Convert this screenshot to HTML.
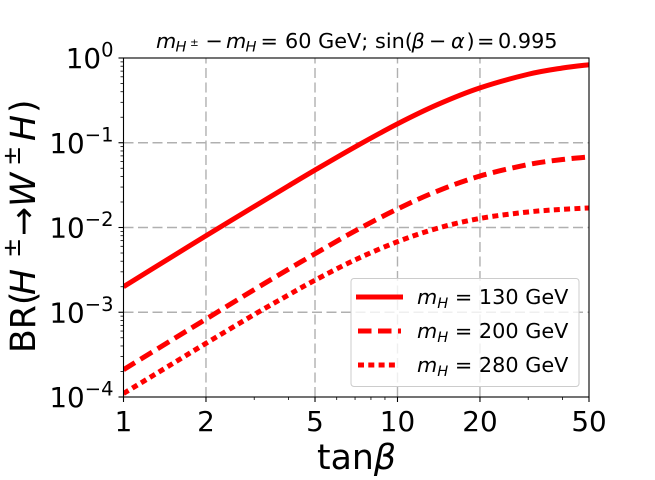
<!DOCTYPE html>
<html>
<head>
<meta charset="utf-8">
<style>
html,body{margin:0;padding:0;background:#fff;}
svg{display:block;}
text{font-family:"DejaVu Sans","Liberation Sans",sans-serif;fill:#000;}
.i{font-style:italic;}
</style>
</head>
<body>
<svg id="chart" width="655" height="480" viewBox="0 0 655 480" xmlns="http://www.w3.org/2000/svg">
<defs><clipPath id="plot-clip"><rect x="123.5" y="58" width="465.5" height="339"/></clipPath></defs>
<rect x="0" y="0" width="655" height="480" fill="#fff"/>
<g id="grid"></g>
<g id="series" clip-path="url(#plot-clip)"></g>
<rect x="123.5" y="58" width="465.5" height="339" fill="none" stroke="#000" stroke-width="1.1"/>
<g id="ticks"></g>
<text y="48" font-size="20.8" xml:space="preserve"><tspan class="i" x="156" y="48">m</tspan><tspan class="i" font-size="14.6" x="175.5" y="51.5">H</tspan><tspan font-size="10.4" x="190" y="46">±</tspan><tspan x="205.5" y="48">−</tspan><tspan class="i" x="226" y="48">m</tspan><tspan class="i" font-size="14.6" x="245.5" y="51.5">H</tspan><tspan x="260.5" y="48">=</tspan><tspan x="285" y="48">60 GeV;</tspan><tspan x="375" y="48">sin(</tspan><tspan class="i" x="411.5" y="48">β</tspan><tspan x="429" y="48">−</tspan><tspan class="i" x="451" y="48">α</tspan><tspan x="466.5" y="48">)</tspan><tspan x="477" y="48">=</tspan><tspan x="498" y="48">0.995</tspan></text>
<text transform="translate(35,353) rotate(-90)" font-size="34.7"><tspan x="0" y="0">BR(</tspan><tspan class="i" x="58" y="0">H</tspan><tspan font-size="24.3" x="95" y="-15">±</tspan><tspan x="117" y="0">→</tspan><tspan class="i" x="146" y="0">W</tspan><tspan font-size="24.3" x="187" y="-15">±</tspan><tspan class="i" x="212" y="0">H</tspan><tspan x="240" y="0">)</tspan></text>
<text x="317" y="469" font-size="34.7">tan<tspan class="i">β</tspan></text>
<g>
<rect x="351" y="278.5" width="228" height="108" rx="3" fill="#fff" fill-opacity="0.8" stroke="#ccc" stroke-width="1"/>
<g>
<line x1="356" x2="403" y1="297" y2="297" stroke="#f00" stroke-width="5"/>
<text x="417" y="304" font-size="20.8"><tspan class="i">m</tspan><tspan class="i" font-size="14.6" dy="4">H</tspan><tspan dy="-4"> = 130 GeV</tspan></text>
</g>
<g>
<line x1="358" x2="401" y1="331" y2="331" stroke="#f00" stroke-width="5" stroke-dasharray="13.5 6.5"/>
<text x="417" y="338" font-size="20.8"><tspan class="i">m</tspan><tspan class="i" font-size="14.6" dy="4">H</tspan><tspan dy="-4"> = 200 GeV</tspan></text>
</g>
<g>
<line x1="358" x2="397" y1="365" y2="365" stroke="#f00" stroke-width="5" stroke-dasharray="6 4.3"/>
<text x="417" y="372" font-size="20.8"><tspan class="i">m</tspan><tspan class="i" font-size="14.6" dy="4">H</tspan><tspan dy="-4"> = 280 GeV</tspan></text>
</g>
</g>
</svg>
<script>
const tanBeta = [1, 1.5, 2, 3, 4, 5, 7, 10, 14, 20, 30, 40, 50];
const br130 = [0.002, 0.0045, 0.008, 0.0177, 0.031, 0.0476, 0.0893, 0.167, 0.282, 0.444, 0.643, 0.762, 0.833];
const br200 = [0.00021, 0.00047, 0.00083, 0.00185, 0.00322, 0.0049, 0.0091, 0.01655, 0.02695, 0.0405, 0.0553, 0.0634, 0.068];
const br280 = [0.00011, 0.000244, 0.00043, 0.00094, 0.0016, 0.00239, 0.00415, 0.0068, 0.0098, 0.0128, 0.01525, 0.01636, 0.017];
const xMajorTicks = [1, 2, 5, 10, 20, 50];
const xMinorTicks = [3, 4, 6, 7, 8, 9, 30, 40];
const yExponents = [0, -1, -2, -3, -4];
const yMinorFactors = [2, 3, 4, 5, 6, 7, 8, 9];
const NS = 'http://www.w3.org/2000/svg';
const left = 123.5, right = 589, top_ = 58, bottom = 397;
const xMin = 1, xMax = 50, yMin = 1e-4, yMax = 1;
function xScale(v) {
  return left + (Math.log10(v) - Math.log10(xMin)) / (Math.log10(xMax) - Math.log10(xMin)) * (right - left);
}
function yScale(v) {
  return bottom - (Math.log10(v) - Math.log10(yMin)) / (Math.log10(yMax) - Math.log10(yMin)) * (bottom - top_);
}
function make(tag, attrs, parent) {
  const el = document.createElementNS(NS, tag);
  for (const k in attrs) el.setAttribute(k, attrs[k]);
  parent.appendChild(el);
  return el;
}
const gridG = document.getElementById('grid');
const ticksG = document.getElementById('ticks');
const seriesG = document.getElementById('series');
const gridStyle = {stroke: '#b0b0b0', 'stroke-width': 1.4, 'stroke-dasharray': '10 4.5'};

xMajorTicks.forEach(function (v) {
  const x = xScale(v);
  if (v !== xMin && v !== xMax) {
    const g = make('line', Object.assign({x1: x, x2: x, y1: bottom, y2: top_}, gridStyle), gridG);
    
    
  }
  const t = make('line', {x1: x, x2: x, y1: bottom, y2: bottom + 5, stroke: '#000', 'stroke-width': 1.1}, ticksG);
  
  
  const l = make('text', {x: x, y: 431, 'font-size': 27.8, 'text-anchor': 'middle'}, ticksG);
  l.textContent = String(v);
  
  
});
xMinorTicks.forEach(function (v) {
  const x = xScale(v);
  const t = make('line', {x1: x, x2: x, y1: bottom, y2: bottom + 3, stroke: '#000', 'stroke-width': 0.8}, ticksG);
  
  
});
yExponents.forEach(function (e) {
  const v = Math.pow(10, e);
  const y = yScale(v);
  if (e !== 0 && e !== -4) {
    const g = make('line', Object.assign({x1: left, x2: right, y1: y, y2: y}, gridStyle), gridG);
    
    
  }
  const t = make('line', {x1: left, x2: left - 5, y1: y, y2: y, stroke: '#000', 'stroke-width': 1.1}, ticksG);
  
  
  const l = make('text', {x: 113.5, y: y + 10, 'font-size': 27.8, 'text-anchor': 'end'}, ticksG);
  
  
  const base = make('tspan', {}, l);
  base.textContent = '10';
  const sup = make('tspan', {'font-size': 19.5, dy: -11.5}, l);
  sup.textContent = e === 0 ? '0' : '\u2212' + Math.abs(e);
  if (e !== -4) {
    yMinorFactors.forEach(function (f) {
      const my = yScale(v * f / 10);
      const m = make('line', {x1: left, x2: left - 3, y1: my, y2: my, stroke: '#000', 'stroke-width': 0.8}, ticksG);
      
      
    });
  }
});
function smoothPath(values) {
  const p = tanBeta.map(function (t, i) {
    return [xScale(t), yScale(values[i])];
  });
  let d = 'M' + p[0][0].toFixed(2) + ' ' + p[0][1].toFixed(2);
  for (let i = 0; i < p.length - 1; i++) {
    const a = p[Math.max(i - 1, 0)], b = p[i], c = p[i + 1], e = p[Math.min(i + 2, p.length - 1)];
    const c1x = b[0] + (c[0] - a[0]) / 6, c1y = b[1] + (c[1] - a[1]) / 6;
    const c2x = c[0] - (e[0] - b[0]) / 6, c2y = c[1] - (e[1] - b[1]) / 6;
    d += 'C' + c1x.toFixed(2) + ' ' + c1y.toFixed(2) + ' ' + c2x.toFixed(2) + ' ' + c2y.toFixed(2) + ' ' + c[0].toFixed(2) + ' ' + c[1].toFixed(2);
  }
  return d;
}
function drawSeries(values, dash, name) {
  const line = make('path', {d: smoothPath(values), fill: 'none', stroke: '#f00', 'stroke-width': 5, 'stroke-linejoin': 'round'}, seriesG);
  if (dash) line.setAttribute('stroke-dasharray', dash);
  
  
}
drawSeries(br130, '', 'line-mh-130');
drawSeries(br200, '13.5 6.5', 'line-mh-200');
drawSeries(br280, '6 4.3', 'line-mh-280');
</script>
</body>
</html>
